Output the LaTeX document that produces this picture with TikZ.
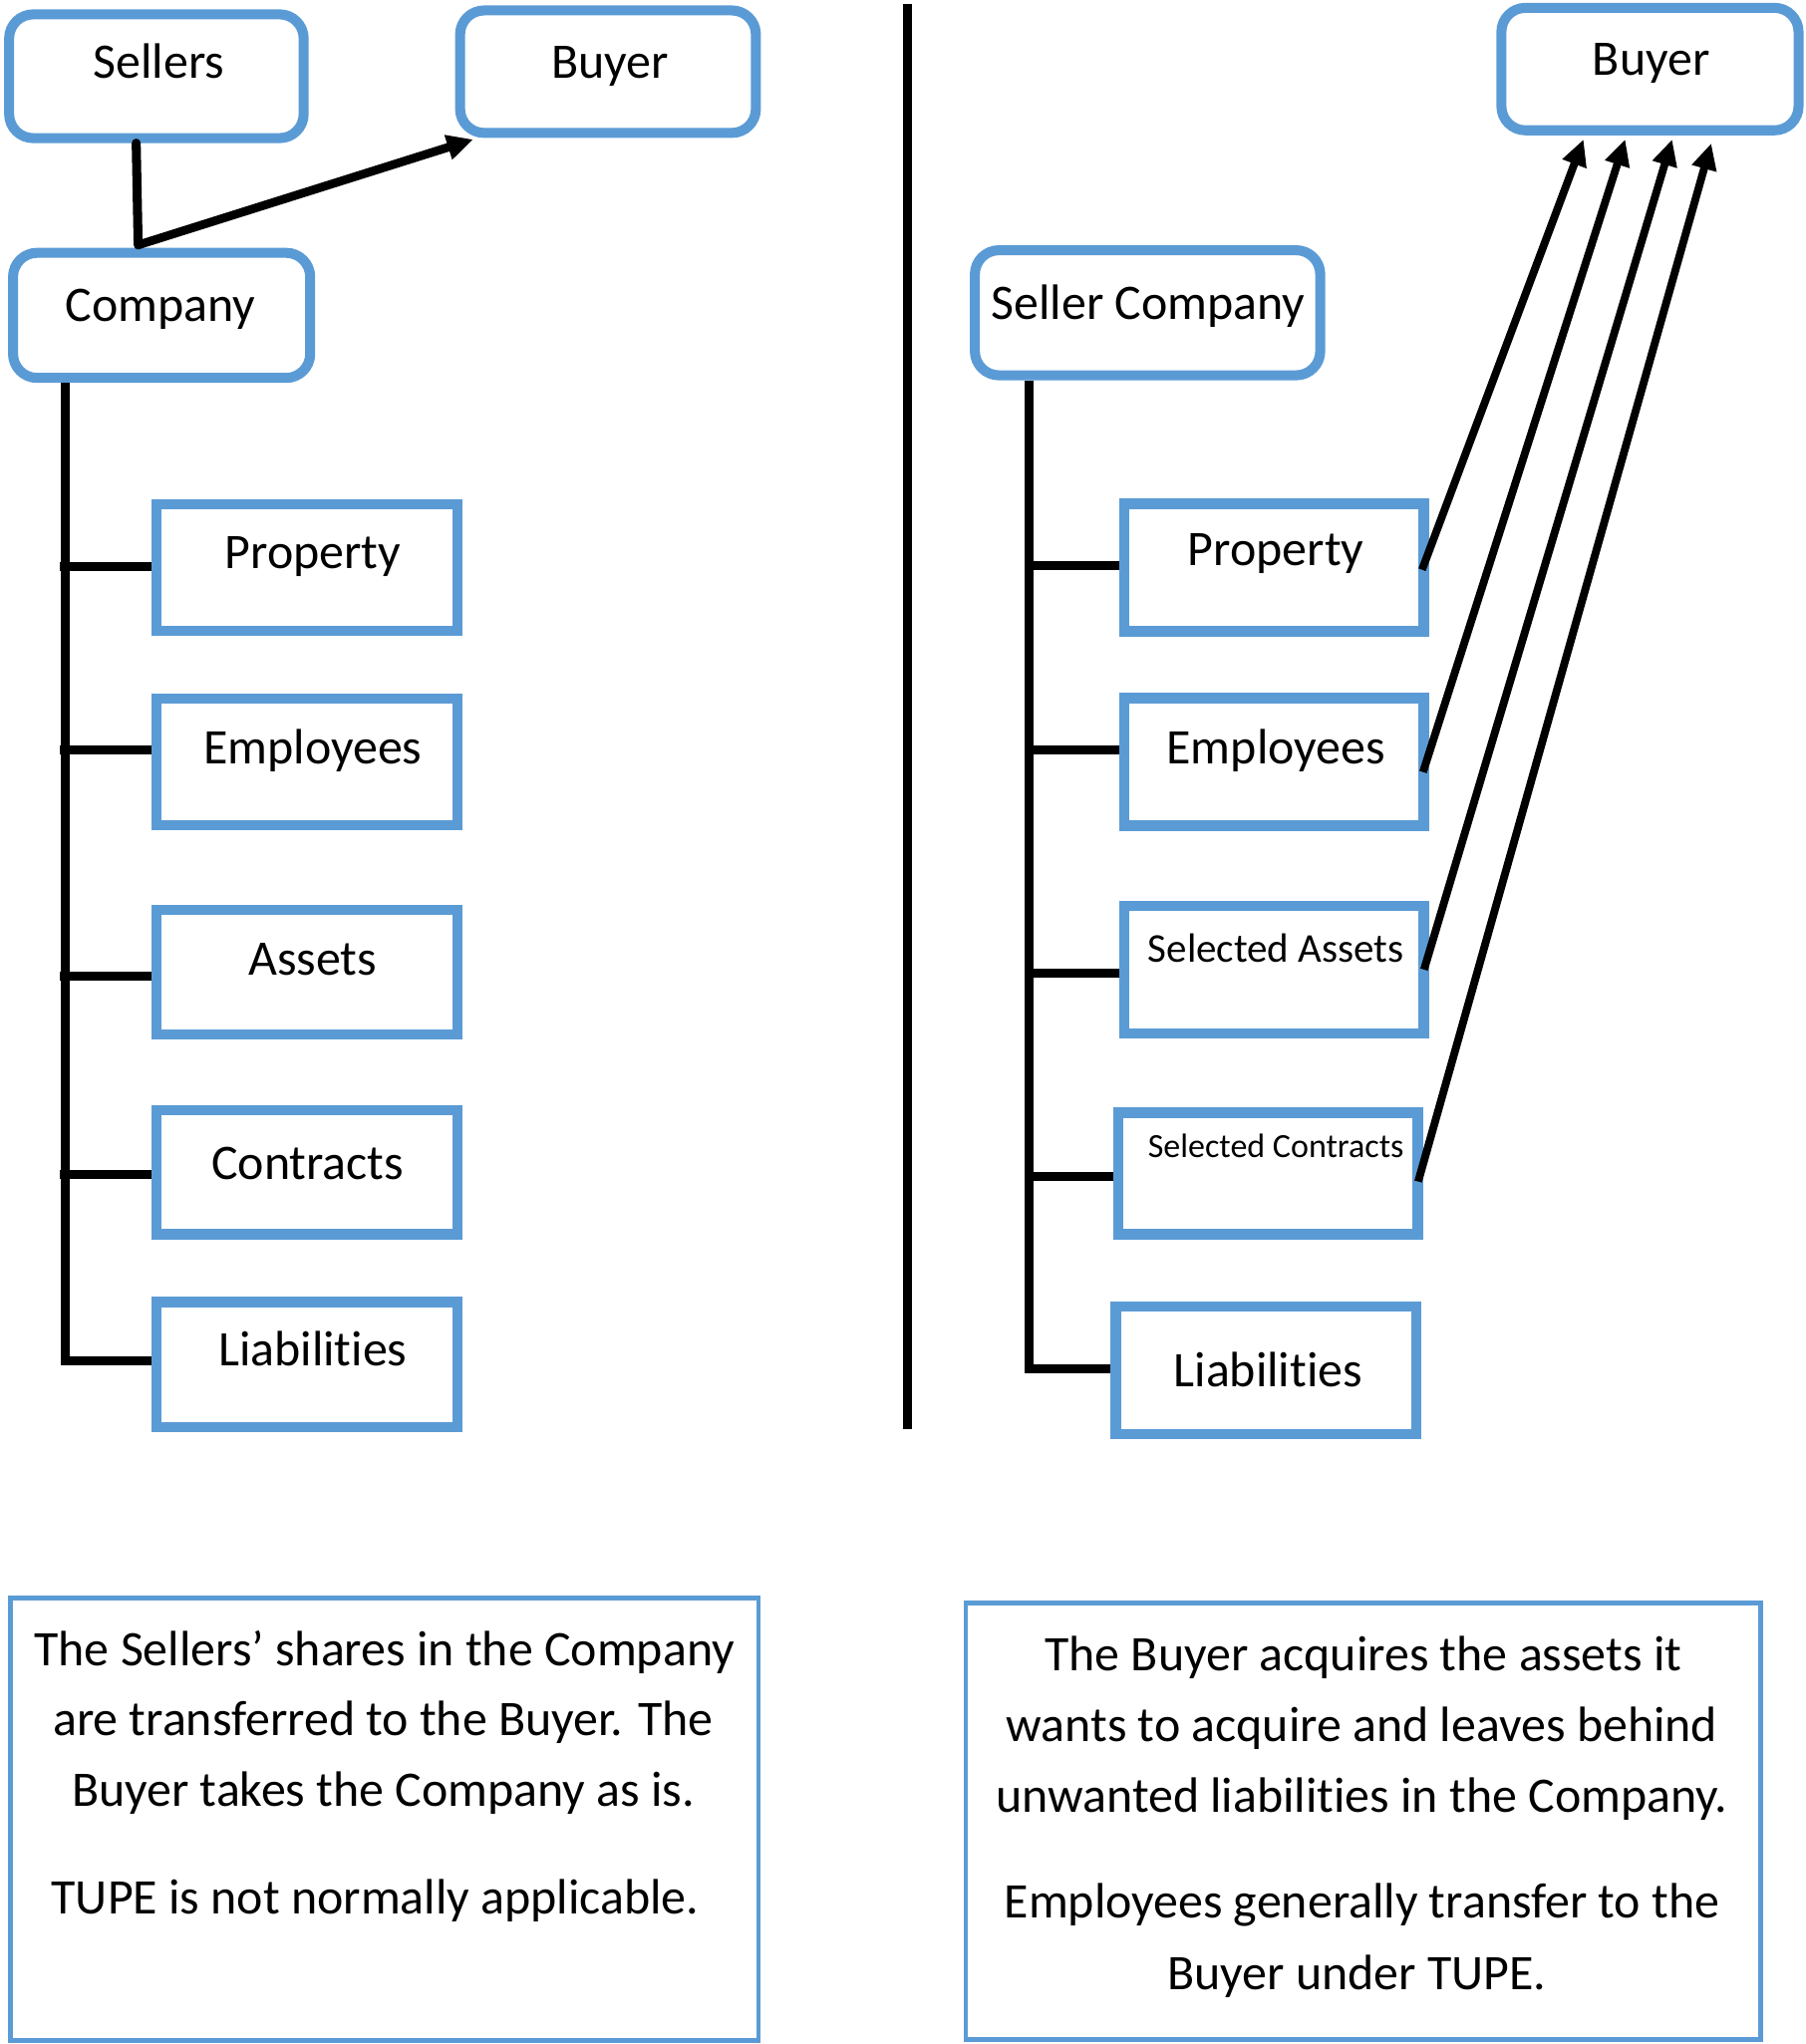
\documentclass[tikz,border=0pt]{standalone}
\usepackage{fontspec}
\setmainfont{Carlito}[Ligatures={NoCommon,NoContextual},Contextuals={NoAlternate}]
\usetikzlibrary{arrows.meta}
\definecolor{boxblue}{HTML}{5B9BD5}
\newcommand{\bx}[6]{\node[#6, minimum width={(#4-#2)*0.65pt}, minimum height={(#5-#3)*0.65pt}] (#1) at ({(#2+#4)/2},{(#3+#5)/2}) {};}
\begin{document}
\begin{tikzpicture}[x=0.65pt,y=-0.65pt,
  rbox/.style={draw=boxblue, line width=5pt, rounded corners=12pt, inner sep=0pt, fill=white},
  sbox/.style={draw=boxblue, line width=5.2pt, inner sep=0pt, fill=white},
  note/.style={draw=boxblue, line width=2.4pt, inner sep=0pt},
  lbl/.style={font=\fontsize{24.8pt}{29pt}\selectfont, inner sep=0pt, anchor=base},
  tree/.style={line width=4.5pt, black},
  arr/.style={line width=3.9pt, black, -{Triangle[length=13pt,width=12pt]}},
  divider/.style={line width=4.5pt, black}]
\useasboundingbox (0,0) rectangle (1385,1568.5);

% ---------- left side ----------
\bx{SellersL}{7}{11}{233}{106}{rbox}
\bx{BuyerL}{353}{8}{580}{102}{rbox}
\bx{CompL}{10}{194}{238}{290}{rbox}
\bx{PropL}{120}{387}{351}{484}{sbox}
\bx{EmpL}{120}{536}{351}{633}{sbox}
\bx{AssL}{120}{698}{351}{794}{sbox}
\bx{ConL}{120}{852}{351}{947}{sbox}
\bx{LiabL}{120}{999}{351}{1095}{sbox}

\node[lbl] (tSellers) at (122,60) {Sellers};
\node[lbl] (tBuyerL) at (468,60) {Buyer};
\node[lbl] (tCompL) at (123,247) {Company};
\node[lbl] (tPropL) at (240,436) {Property};
\node[lbl] (tEmpL) at (240,586) {Employees};
\node[lbl] (tAssL) at (240,748) {Assets};
\node[lbl] (tConL) at (236,905) {Contracts};
\node[lbl] (tLiabL) at (240,1048) {Liabilities};

\coordinate (tL) at (50,0);
\coordinate (bL1) at (46,434.5);
\coordinate (bL2) at (46,575.3);
\coordinate (bL3) at (46,749);
\coordinate (bL4) at (46,901);
\coordinate (bL5) at (50,1044);
\draw[tree] (CompL.south -| tL) -- (bL5) -- (bL5 -| LiabL.west);
\draw[tree] (bL1) -- (bL1 -| PropL.west);
\draw[tree] (bL2) -- (bL2 -| EmpL.west);
\draw[tree] (bL3) -- (bL3 -| AssL.west);
\draw[tree] (bL4) -- (bL4 -| ConL.west);

\coordinate (jL) at (106,188);
\coordinate (tipL) at (363,107);
\draw[tree, line cap=round] (SellersL.south -| 104.5,0) -- (jL);
\draw[arr, line width=4.3pt] (jL) -- (tipL);

% ---------- divider ----------
\coordinate (dTop) at (696,3);
\coordinate (dBot) at (696,1097);
\draw[divider] (dTop) -- (dBot);

% ---------- right side ----------
\bx{BuyerR}{1152}{6}{1380}{100}{rbox}
\bx{SellCo}{748}{192}{1013}{288}{rbox}
\bx{PropR}{862.5}{386.7}{1092.5}{484.6}{sbox}
\bx{EmpR}{862.5}{535.8}{1092.5}{633.7}{sbox}
\bx{SAssR}{862.5}{695}{1092.5}{793}{sbox}
\bx{SConR}{858}{854}{1088}{947}{sbox}
\bx{LiabR}{856}{1002.7}{1086.5}{1100.3}{sbox}

\node[lbl] (tBuyerR) at (1267,58) {Buyer};
\node[lbl] (tSellCo) at (881,245) {Seller Company};
\node[lbl] (tPropR) at (979,434) {Property};
\node[lbl] (tEmpR) at (979,586) {Employees};
\node[lbl, font=\fontsize{20.4pt}{24pt}\selectfont] (tSAssR) at (979,738.7) {Selected Assets};
\node[lbl, font=\fontsize{16.9pt}{20pt}\selectfont] (tSConR) at (979,888.4) {Selected Contracts};
\node[lbl] (tLiabR) at (973,1064) {Liabilities};

\coordinate (tR) at (789.5,0);
\coordinate (bR1) at (789.5,434);
\coordinate (bR2) at (789.5,575.3);
\coordinate (bR3) at (789.5,747);
\coordinate (bR4) at (789.5,903);
\coordinate (bR5) at (789.5,1050.7);
\draw[tree] (SellCo.south -| tR) -- (bR5) -- (bR5 -| LiabR.west);
\draw[tree] (bR1) -- (bR1 -| PropR.west);
\draw[tree] (bR2) -- (bR2 -| EmpR.west);
\draw[tree] (bR3) -- (bR3 -| SAssR.west);
\draw[tree] (bR4) -- (bR4 -| SConR.west);

\coordinate (tip1) at (1215,107);
\coordinate (tip2) at (1247,107);
\coordinate (tip3) at (1283,107);
\coordinate (tip4) at (1313,110);
\draw[arr] ([xshift=-3.5pt,yshift=-1pt]PropR.east) -- (tip1);
\draw[arr] ([xshift=-3pt,yshift=-5pt]EmpR.east) -- (tip2);
\draw[arr] ([xshift=-2.5pt]SAssR.east) -- (tip3);
\draw[arr] ([xshift=-2.5pt,yshift=-4pt]SConR.east) -- (tip4);

% ---------- notes ----------
\bx{NoteL}{8}{1226}{582}{1566}{note}
\bx{NoteR}{741}{1230}{1351}{1565}{note}

\node[lbl] (nl1) at (295,1278) {The Sellers’ shares in the Company};
\node[lbl] (nl2) at (294,1332) {are transferred to the Buyer. The};
\node[lbl] (nl3) at (294,1386) {Buyer takes the Company as is.};
\node[lbl] (nl4) at (288,1468.5) {TUPE is not normally applicable.};

\node[lbl] (nr1) at (1046,1282) {The Buyer acquires the assets it};
\node[lbl] (nr2) at (1045,1336) {wants to acquire and leaves behind};
\node[lbl] (nr3) at (1045,1391) {unwanted liabilities in the Company.};
\node[lbl] (nr4) at (1045,1472) {Employees generally transfer to the};
\node[lbl] (nr5) at (1041,1527) {Buyer under TUPE.};
\end{tikzpicture}
\end{document}
